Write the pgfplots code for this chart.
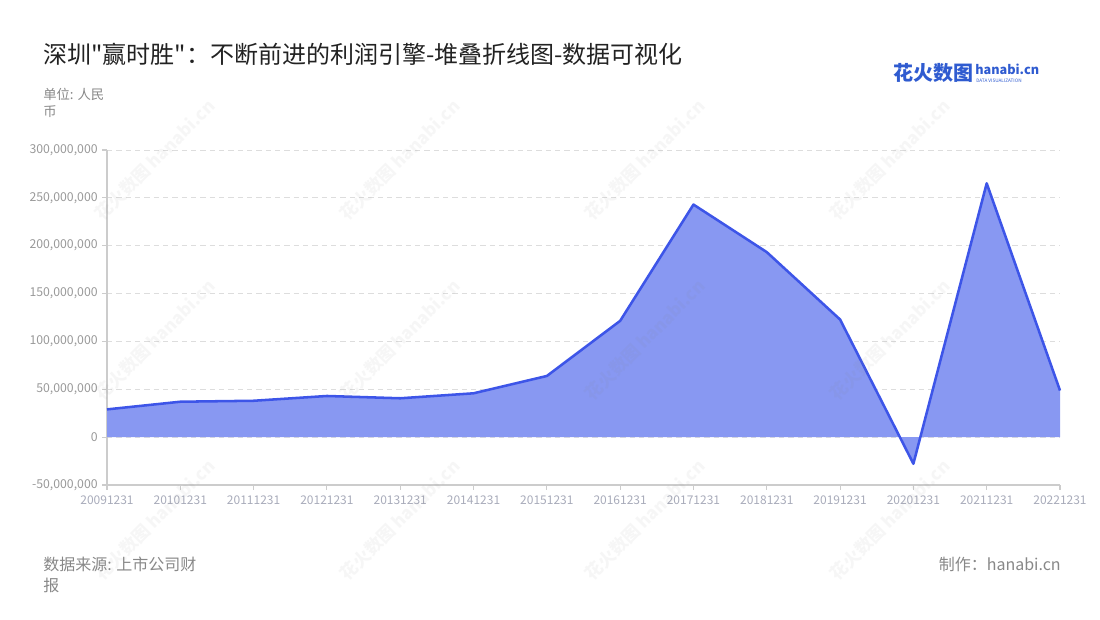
\documentclass[border=0pt]{standalone}
\usepackage{pgfplots}
\pgfplotsset{compat=1.18}
\usepackage{fontspec}
\setmainfont{Noto Sans CJK SC}[Ligatures=TeXOff]
\definecolor{linec}{HTML}{3D55E8}
\definecolor{fillc}{HTML}{8898F2}
\definecolor{ticklab}{HTML}{999999}
\definecolor{xticklab}{HTML}{A8ABBA}
\definecolor{axisc}{HTML}{CCCCCC}
\definecolor{gridc}{HTML}{DDDDDD}
\definecolor{titlec}{HTML}{222222}
\definecolor{subc}{HTML}{888888}
\definecolor{logoc}{HTML}{2F5BD0}
\pgfplotstableread{
x y
0 29000000
1 37000000
2 38000000
3 43000000
4 40600000
5 45800000
6 63900000
7 121500000
8 243000000
9 193300000
10 122900000
11 -27800000
12 265200000
13 48700000
}\profit
\begin{document}
\begin{tikzpicture}[x=0.75pt,y=0.75pt]
\path[use as bounding box] (0,0) rectangle (1100,620);
\begin{axis}[
  at={(80.25pt,101.25pt)}, anchor=south west,
  scale only axis, width=714.75pt, height=251.25pt,
  xmin=0, xmax=13, ymin=-50000000, ymax=300000000,
  axis x line*=bottom, axis y line*=left,
  axis line style={axisc, line width=1.2pt},
  xtick={0,...,13},
  xticklabels={20091231,20101231,20111231,20121231,20131231,20141231,20151231,20161231,20171231,20181231,20191231,20201231,20211231,20221231},
  ytick={-50000000,0,50000000,100000000,150000000,200000000,250000000,300000000},
  yticklabels={{-50,000,000},{0},{50,000,000},{100,000,000},{150,000,000},{200,000,000},{250,000,000},{300,000,000}},
  scaled y ticks=false,
  tick align=outside, major tick length=3.5pt,
  tick style={axisc, line width=0.8pt},
  x tick label style={font=\fontsize{9}{10}\selectfont, text=xticklab, yshift=-1pt},
  y tick label style={font=\fontsize{9.2}{10}\selectfont, text=ticklab},
  ymajorgrids, grid style={gridc, dashed, line width=0.7pt, dash pattern=on 4pt off 3pt},
  clip=false,
]
\addplot[fill=fillc, draw=none] table[x=x,y=y]{\profit} \closedcycle;
\addplot[linec, line width=1.9pt, line join=round] table[x=x,y=y]{\profit};
\end{axis}
% watermarks
\foreach \wx in {155,400,645,890}{\foreach \wy in {160,340,520}{
  \node[rotate=45, text=gray, opacity=0.07, font=\bfseries\fontsize{13}{13}\selectfont, inner sep=0] at (\wx,620-\wy) {花火数图 hanabi.cn};
}}
% title
\node[anchor=west, inner sep=0, text=titlec, font=\fontsize{18}{20}\selectfont] at (43,620-54) {深圳"赢时胜"：不断前进的利润引擎-堆叠折线图-数据可视化};
% unit
\node[anchor=north west, inner sep=0, text=subc, font=\fontsize{10}{12.8}\selectfont, align=left] at (43,620-88) {单位: 人民\\币};
% footer
\node[anchor=north west, inner sep=0, text=subc, font=\fontsize{12}{15.8}\selectfont, align=left] at (43,620-557) {数据来源: 上市公司财\\报};
\node[anchor=north east, inner sep=0, text=subc, font=\fontsize{12}{15.8}\selectfont] at (1061,620-557) {制作：hanabi.cn};
% logo
\node[anchor=west, inner sep=0, text=logoc, font=\bfseries\fontsize{15}{15}\selectfont] at (893,620-73) {花火数图};
\node[anchor=west, inner sep=0, text=logoc, font=\bfseries\fontsize{9.5}{10}\selectfont] at (975,620-69) {hanabi.cn};
\node[anchor=west, inner sep=0, text=logoc, font=\fontsize{3.5}{4}\selectfont] at (976,620-81) {DATA VISUALIZATION};
\end{tikzpicture}
\end{document}
